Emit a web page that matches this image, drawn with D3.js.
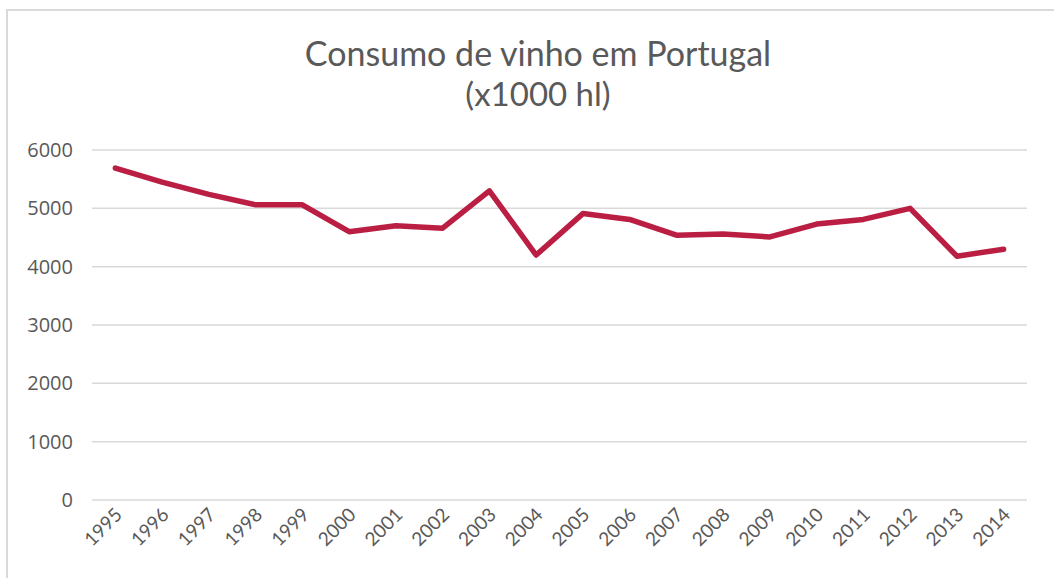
<!DOCTYPE html>
<html>
<head>
<meta charset="utf-8">
<script src="https://cdn.jsdelivr.net/npm/d3@7"></script>
<style>
  html, body { margin: 0; padding: 0; background: #fff; }
  svg { display: block; font-family: "Lato", "Open Sans", sans-serif; }
</style>
</head>
<body>
<svg id="chart" width="1054" height="578"></svg>
<script>
const years = ["1995", "1996", "1997", "1998", "1999", "2000", "2001", "2002", "2003", "2004",
  "2005", "2006", "2007", "2008", "2009", "2010", "2011", "2012", "2013", "2014"];
const consumption = [5690, 5450, 5240, 5060, 5060, 4600, 4700, 4660, 5300, 4200,
  4910, 4810, 4540, 4560, 4510, 4730, 4810, 5000, 4180, 4300];
const yTicks = [0, 1000, 2000, 3000, 4000, 5000, 6000];
const titleLines = ["Consumo de vinho em Portugal", "(x1000 hl)"];

const svg = d3.select("#chart");
const width = 1054;
const height = 578;
const margins = { top: 150, right: 27, bottom: 78, left: 92 };
const textColor = "#595959";

// chart area border (runs off the right and bottom edges)
svg.append("rect")
  .attr("x", 7)
  .attr("y", 10)
  .attr("width", width + 20)
  .attr("height", height + 20)
  .attr("fill", "none")
  .attr("stroke", "#d9d9d9")
  .attr("stroke-width", 2);

svg.append("text")
  .attr("text-anchor", "middle")
  .attr("fill", textColor)
  .attr("font-size", 34)
  .selectAll("tspan")
  .data(titleLines)
  .join("tspan")
  .attr("x", 538)
  .attr("y", (d, i) => 66 + i * 40)
  .attr("font-size", (d, i) => (i === 0 ? 34 : 33))
  .text((d) => d);

const x = d3.scaleBand()
  .domain(years)
  .range([margins.left, width - margins.right]);

const y = d3.scaleLinear()
  .domain([0, 6000])
  .range([height - margins.bottom, margins.top]);

// gridlines
svg.append("g")
  .selectAll("line")
  .data(yTicks)
  .join("line")
  .attr("x1", margins.left)
  .attr("x2", width - margins.right)
  .attr("y1", (d) => y(d))
  .attr("y2", (d) => y(d))
  .attr("stroke", "#d9d9d9")
  .attr("stroke-width", 1.5);

// y axis labels
const yAxis = svg.append("g")
  .attr("transform", `translate(${margins.left - 19}, 0)`)
  .call(d3.axisLeft(y).tickValues(yTicks).tickSize(0).tickPadding(0).tickFormat(d3.format("d")));
yAxis.select(".domain").remove();
yAxis.selectAll("text")
  .attr("fill", textColor)
  .attr("font-size", 20)
  .attr("font-family", "Open Sans, sans-serif");

// x axis labels, rotated
const xAxis = svg.append("g")
  .attr("transform", `translate(0, ${height - margins.bottom})`)
  .call(d3.axisBottom(x).tickSize(0).tickPadding(0));
xAxis.select(".domain").remove();
xAxis.selectAll("text")
  .attr("fill", textColor)
  .attr("font-size", 19)
  .attr("font-family", "Lato, sans-serif")
  .attr("text-anchor", "end")
  .attr("dy", null)
  .attr("transform", "translate(8, 16) rotate(-45)");

const line = d3.line()
  .x((d, i) => x(years[i]) + x.bandwidth() / 2)
  .y((d) => y(d));

svg.append("path")
  .datum(consumption)
  .attr("fill", "none")
  .attr("stroke", "#ba1f43")
  .attr("stroke-width", 5.5)
  .attr("stroke-linecap", "round")
  .attr("stroke-linejoin", "round")
  .attr("d", line);
</script>
</body>
</html>
